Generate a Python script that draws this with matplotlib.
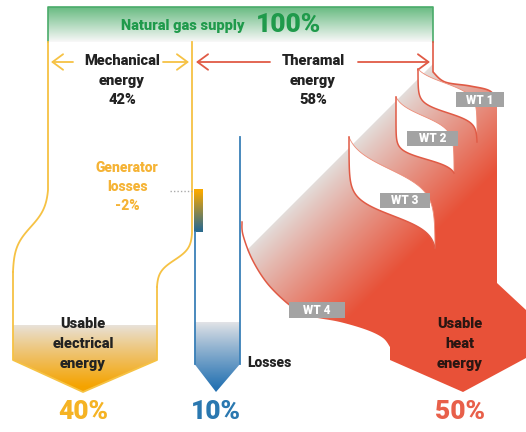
import numpy as np
import matplotlib
matplotlib.use("Agg")
import matplotlib.pyplot as plt
from matplotlib.patches import Polygon, Rectangle

# ---------------- data ----------------
supply_label = "Natural gas supply"
supply_pct = 100
split_labels = [["Mechanical", "energy"], ["Theramal", "energy"]]
split_pct = [42, 58]
gen_loss_label = ["Generator", "losses"]
gen_loss_pct = -2
out_labels = [["Usable", "electrical", "energy"], ["Losses"], ["Usable", "heat", "energy"]]
out_pct = [40, 10, 50]
wt_labels = ["WT 1", "WT 2", "WT 3", "WT 4"]

# ---------------- style ----------------
FONT = ["Roboto", "DejaVu Sans"]
WEIGHT = 800
YEL = "#f6c244"
ORANGE = np.array([0.96, 0.64, 0.0])
GREEN_T = "#1f9a4b"
GREEN_L = "#4aab6a"
RED_L = "#e05a45"
RED = np.array([0.91, 0.32, 0.22])
LIGHT = np.array([0.89, 0.87, 0.86])
BLUE = np.array([0.15, 0.45, 0.70])
DARK = "#222222"
GRAY = "#a3a3a3"

W, H = 526, 432
fig = plt.figure(figsize=(W / 100, H / 100), dpi=100)
ax = fig.add_axes([0, 0, 1, 1])


def lerp(c0, c1, t):
    t = np.clip(t, 0, 1)[..., None]
    rgb = np.asarray(c0) * (1 - t) + np.asarray(c1) * t
    return np.concatenate([rgb, np.ones(rgb.shape[:-1] + (1,))], axis=-1)


def grad_fill(verts, func, z):
    verts = np.asarray(verts, float)
    x0, y0 = np.floor(verts.min(axis=0)) - 1
    x1, y1 = np.ceil(verts.max(axis=0)) + 1
    xs = np.arange(x0, x1 + 1)
    ys = np.arange(y0, y1 + 1)
    X, Y = np.meshgrid(xs, ys)
    img = func(X, Y)
    im = ax.imshow(img, extent=(x0 - 0.5, x1 + 0.5, y1 + 0.5, y0 - 0.5),
                   origin="upper", zorder=z, interpolation="bilinear")
    poly = Polygon(verts, closed=True, facecolor="none", edgecolor="none")
    ax.add_patch(poly)
    im.set_clip_path(poly)


def catmull(pts, n=14):
    pts = np.asarray(pts, float)
    P = np.vstack([pts[0], pts, pts[-1]])
    out = []
    for i in range(1, len(P) - 2):
        p0, p1, p2, p3 = P[i - 1], P[i], P[i + 1], P[i + 2]
        t = np.linspace(0, 1, n, endpoint=False)[:, None]
        out.append(0.5 * ((2 * p1) + (-p0 + p2) * t + (2 * p0 - 5 * p1 + 4 * p2 - p3) * t ** 2
                          + (-p0 + 3 * p1 - 3 * p2 + p3) * t ** 3))
    out.append(pts[-1:])
    return np.vstack(out)


def s_curve(T, B, c, k, n=90):
    s = np.linspace(0, 1, n)
    lg = lambda v: 1 / (1 + np.exp(-k * (v - c)))
    f = (lg(s) - lg(0)) / (lg(1) - lg(0))
    return np.column_stack([T[0] + (B[0] - T[0]) * f, T[1] + (B[1] - T[1]) * s])


def txt(x, y, s, size, color, ha="center", weight=WEIGHT):
    ax.text(x, y, s, fontsize=size, color=color, ha=ha, va="center",
            fontweight=weight, family=FONT, zorder=20)


# ---------------- header ----------------
hdr = [(48, 7), (433, 7), (433, 42), (48, 42)]
grad_fill(hdr, lambda X, Y: lerp([0.40, 0.73, 0.50], [0.97, 0.97, 0.97], (Y - 7) / 35), 2)
ax.plot([48, 48, 433, 433], [42, 7, 7, 42], color=GREEN_L, lw=1.2, zorder=5)
txt(183, 26, supply_label, 10.5, GREEN_T)
txt(288, 25, f"{supply_pct}%", 19, GREEN_T)

# ---------------- split arrows & labels ----------------
def arrow(tail, tip, color):
    ax.annotate("", xy=(tip, 62), xytext=(tail, 62),
                arrowprops=dict(arrowstyle="->,head_length=0.38,head_width=0.28",
                                color=color, lw=1.3, mutation_scale=20,
                                shrinkA=0, shrinkB=0), zorder=6)

arrow(73, 51, YEL)
arrow(163, 189, YEL)
arrow(270, 196, RED_L)
arrow(358, 430, RED_L)
for cx, lines, pct in zip([122, 313], split_labels, split_pct):
    txt(cx, 61, lines[0], 10.5, DARK)
    txt(cx, 81, lines[1], 10.5, DARK)
    txt(cx, 100, f"{pct}%", 10.5, DARK)

# ---------------- electrical (yellow) ----------------
left_y = np.vstack([[(48, 42)], s_curve((48, 190), (13, 272), 0.45, 8)])
right_y = np.vstack([[(192, 42)], s_curve((192, 233), (157, 287), 0.5, 9)])
ax.plot(left_y[:, 0], left_y[:, 1], color=YEL, lw=1.3, zorder=5)
ax.plot(right_y[:, 0], right_y[:, 1], color=YEL, lw=1.3, zorder=5)
elec_box = [(13, 325), (157, 325), (157, 360), (83, 392), (13, 360)]
grad_fill(elec_box, lambda X, Y: lerp([0.91, 0.89, 0.87], ORANGE, ((Y - 325) / 62) ** 0.9), 3)
ax.plot([13, 13, 83, 157, 157], [272, 360, 392, 360, 287], color=YEL, lw=1.3, zorder=5)
for i, ln in enumerate(out_labels[0]):
    txt(83, 324 + 20 * i, ln, 10.5, DARK)
txt(83, 412, f"{out_pct[0]}%", 19, "#f5b324")

# generator losses
grad_fill([(194, 189), (203, 189), (203, 232), (194, 232)],
          lambda X, Y: lerp([0.97, 0.66, 0.0], [0.18, 0.42, 0.55], (Y - 192) / 38), 4)
ax.plot([170, 192], [191, 191], color="#aaaaaa", lw=1, ls=(0, (1, 1.5)), zorder=5)
txt(127, 168, gen_loss_label[0], 10, "#f5b335")
txt(127, 187, gen_loss_label[1], 10, "#f5b335")
txt(127, 206, f"{gen_loss_pct}%", 10, "#f5b335")

# ---------------- losses (blue) ----------------
BL = "#3a80b8"
ax.plot([194.5, 194.5], [232, 364], color=BL, lw=1.3, zorder=5)
ax.plot([240, 240], [137, 364], color=BL, lw=1.3, zorder=5)
loss_box = [(194.5, 322), (240, 322), (240, 364), (216, 392), (194.5, 364)]
grad_fill(loss_box, lambda X, Y: lerp([0.90, 0.90, 0.91], BLUE, ((Y - 322) / 66) ** 0.9), 3)
txt(247, 363, out_labels[1][0], 10, DARK, ha="left")
txt(216, 412, f"{out_pct[1]}%", 19, "#2a78b0")

# ---------------- heat (red) ----------------
outer_right = np.vstack([[(433, 64)], catmull([(433, 72), (445, 82), (470, 86), (490, 91), (497, 102)]),
                         [(497, 283), (526, 310), (526, 358), (463, 392), (390, 360), (390, 347)]])
lower_left = catmull([(390, 347), (383, 338), (367, 330), (340, 322), (313, 317), (298, 311),
                      (287, 303), (267, 283), (252, 259), (247, 250)])
heat = np.vstack([outer_right, lower_left, [(433, 64)]])


def heat_col(X, Y):
    t = np.clip((X + Y - 497) / 170, 0, 1) ** 0.9
    return lerp(LIGHT, RED, t)


grad_fill(heat, heat_col, 3)

top_line = np.vstack([[(433, 42)], catmull([(433, 72), (445, 82), (470, 86), (490, 91), (497, 102)])])
ax.plot(top_line[:, 0], top_line[:, 1], color=RED_L, lw=1.2, zorder=5)
left_line = catmull([(242, 222), (243, 235), (252, 259), (267, 283), (287, 303), (300, 311)])
ax.plot(left_line[:, 0], left_line[:, 1], color=RED_L, lw=1.1, zorder=5)

# white pockets under the heat exchangers
pockets = [
    ((418, 69), (477, 142), (0.19, 12), (0.60, 15)),
    ((396, 97), (454, 173), (0.25, 11), (0.82, 17)),
    ((349, 137), (435, 248), (0.29, 10), (0.71, 13)),
]
for T, B, up, lo in pockets:
    upper = s_curve(T, B, *up)
    lower = s_curve(T, B, *lo)
    poly = np.vstack([upper, lower[::-1]])
    ax.add_patch(Polygon(poly, closed=True, facecolor="white", edgecolor="none", zorder=6))
    ax.plot(upper[:, 0], upper[:, 1], color=(0.93, 0.55, 0.47), lw=0.6, zorder=7)
    ax.plot(lower[:, 0], lower[:, 1], color=RED_L, lw=1.1, zorder=7)

# WT labels
wt_boxes = [(456, 92, 48, 15), (407, 131, 51, 15), (380, 193, 50, 15), (289, 302, 56, 16)]
for (x, y, w, h), lab in zip(wt_boxes, wt_labels):
    ax.add_patch(Rectangle((x, y), w, h, facecolor=GRAY, edgecolor="none", zorder=10))
    ax.text(x + w / 2, y + h / 2 + 0.5, lab, fontsize=8.5, color="white", ha="center", va="center",
            fontweight=WEIGHT, family=FONT, zorder=11)

for i, ln in enumerate(out_labels[2]):
    txt(460, 324 + 20 * i, ln, 10.5, "#2a1612")
txt(460, 412, f"{out_pct[2]}%", 19, "#e8604a")

ax.set_xlim(0, W)
ax.set_ylim(H, 0)
ax.set_aspect("auto")
ax.axis("off")
fig.savefig("out.png", dpi=100, facecolor="white")
